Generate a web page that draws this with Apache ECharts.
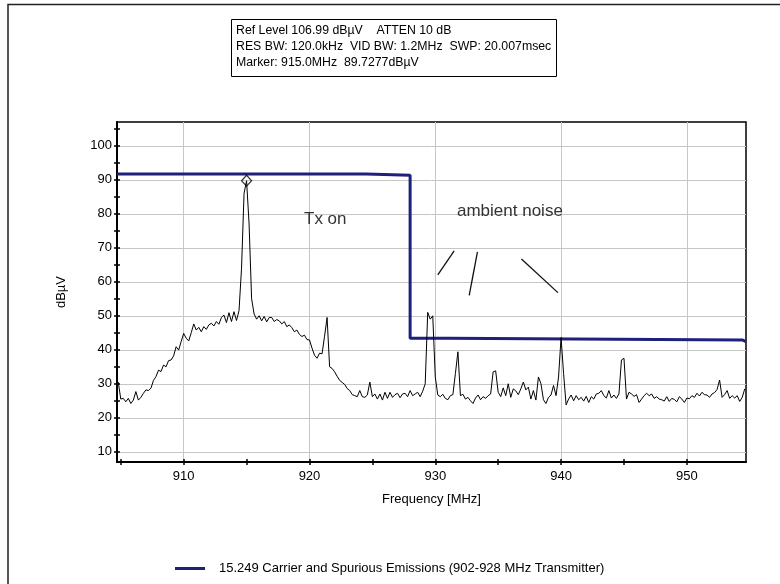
<!DOCTYPE html>
<html><head><meta charset="utf-8">
<script src="https://cdn.jsdelivr.net/npm/echarts@6/dist/echarts.min.js"></script>
<style>html,body{margin:0;padding:0;background:#fff}#c{width:780px;height:584px}</style>
</head><body><div id="c"></div>
<script>
const FONT = '"Liberation Sans", Arial, Helvetica, sans-serif';

// measured trace (frequency MHz, level dBµV)
const traceFreq = [
904.8,905.0,905.2,905.4,905.6,905.8,906.0,906.2,906.4,906.6,
906.8,907.0,907.2,907.4,907.6,907.8,908.0,908.2,908.4,908.6,
908.8,909.0,909.2,909.4,909.6,909.8,910.0,910.2,910.4,910.6,
910.8,911.0,911.2,911.4,911.6,911.8,912.0,912.2,912.4,912.6,
912.8,913.0,913.2,913.4,913.6,913.8,914.0,914.2,914.4,914.6,
914.8,915.0,915.2,915.4,915.6,915.8,916.0,916.2,916.4,916.6,
916.8,917.0,917.2,917.4,917.6,917.8,918.0,918.2,918.4,918.6,
918.8,919.0,919.2,919.4,919.6,919.8,920.0,920.2,920.4,920.6,
920.8,921.0,921.2,921.4,921.6,921.8,922.0,922.2,922.4,922.6,
922.8,923.0,923.2,923.4,923.6,923.8,924.0,924.2,924.4,924.6,
924.8,925.0,925.2,925.4,925.6,925.8,926.0,926.2,926.4,926.6,
926.8,927.0,927.2,927.4,927.6,927.8,928.0,928.2,928.4,928.6,
928.8,929.0,929.2,929.4,929.6,929.8,930.0,930.2,930.4,930.6,
930.8,931.0,931.2,931.4,931.6,931.8,932.0,932.2,932.4,932.6,
932.8,933.0,933.2,933.4,933.6,933.8,934.0,934.2,934.4,934.6,
934.8,935.0,935.2,935.4,935.6,935.8,936.0,936.2,936.4,936.6,
936.8,937.0,937.2,937.4,937.6,937.8,938.0,938.2,938.4,938.6,
938.8,939.0,939.2,939.4,939.6,939.8,940.0,940.2,940.4,940.6,
940.8,941.0,941.2,941.4,941.6,941.8,942.0,942.2,942.4,942.6,
942.8,943.0,943.2,943.4,943.6,943.8,944.0,944.2,944.4,944.6,
944.8,945.0,945.2,945.4,945.6,945.8,946.0,946.2,946.4,946.6,
946.8,947.0,947.2,947.4,947.6,947.8,948.0,948.2,948.4,948.6,
948.8,949.0,949.2,949.4,949.6,949.8,950.0,950.2,950.4,950.6,
950.8,951.0,951.2,951.4,951.6,951.8,952.0,952.2,952.4,952.6,
952.8,953.0,953.2,953.4,953.6,953.8,954.0,954.2,954.4,954.6
];
const traceLevel = [
30.5,25.5,25.7,24.7,25.7,24.2,25.2,27.7,25.2,26.0,
27.2,28.2,28.0,28.7,31.0,32.1,34.0,33.6,35.5,35.0,
36.8,37.0,38.2,40.9,39.9,42.4,44.8,43.4,42.6,45.0,
47.6,45.8,46.6,45.3,46.8,46.0,47.3,47.8,47.0,48.3,
47.5,49.5,50.2,48.0,50.9,48.3,51.2,48.6,51.5,64.0,
86.0,89.7277,77.0,55.0,50.5,49.0,50.0,48.5,49.8,48.2,
49.5,49.5,48.3,48.9,48.5,47.6,48.3,46.8,47.3,46.5,
45.3,45.8,44.5,43.9,44.3,43.0,42.9,40.5,38.4,37.5,
39.0,38.8,44.0,49.5,35.0,34.5,33.5,32.2,31.0,30.4,
29.8,28.6,28.0,26.8,26.5,26.2,28.0,26.2,26.0,26.7,
30.5,26.2,27.0,25.5,27.0,25.2,27.5,25.7,27.5,26.0,
26.8,27.2,25.9,27.0,27.2,26.2,28.0,26.5,27.0,27.5,
26.2,27.8,30.0,51.0,49.0,50.0,32.0,26.7,26.2,26.9,
25.7,25.3,26.5,26.8,33.0,39.4,26.5,26.9,25.5,26.0,
25.0,24.2,25.8,26.7,25.3,26.2,25.7,26.5,27.0,33.5,
33.8,27.5,26.2,28.8,26.5,30.0,26.0,28.5,27.9,26.8,
28.5,30.5,28.2,29.0,25.5,28.0,25.2,32.0,30.0,25.3,
24.2,26.0,26.7,29.5,26.5,32.0,43.6,33.0,23.8,25.5,
26.7,25.0,26.5,25.3,26.0,24.9,26.3,24.5,26.2,25.5,
27.0,27.2,28.0,26.5,25.8,28.0,25.8,26.7,25.7,27.0,
37.0,37.5,25.5,27.5,27.0,26.3,26.8,24.5,25.5,26.5,
27.2,26.5,27.0,25.7,26.2,25.5,25.3,24.9,26.2,24.8,
25.7,25.4,24.7,26.2,25.5,24.5,25.8,25.6,26.5,26.0,
27.2,26.4,27.5,26.8,26.7,26.0,27.0,27.4,28.3,31.1,
26.0,26.8,28.0,25.7,26.5,25.8,26.5,24.8,26.0,28.5
];

// limit line (15.249)
const limitFreq  = [904.7, 924.5, 924.5, 928.0, 928.0, 931.0, 931.0, 954.4, 954.4, 954.7];
const limitLevel = [91.7,  91.7,  91.3,  91.3,  43.4,  43.4,  42.9,  42.9,  42.4,  42.4];

// marker
const markerFreq = [915.0];
const markerLevel = [89.7277];

// hand-drawn annotation strokes (start, end) in MHz / dBµV
const noteStrokes = [
  [[931.50, 69.1], [930.20, 62.0]],
  [[933.35, 68.8], [932.70, 56.0]],
  [[936.85, 66.7], [939.75, 56.8]]
];

// axes
const xRange = [904.7, 954.7];
const yRange = [6.99, 106.99];
const xTicks = [905, 910, 915, 920, 925, 930, 935, 940, 945, 950];
const xLabels = [910, 920, 930, 940, 950];
const yTicks = [10, 15, 20, 25, 30, 35, 40, 45, 50, 55, 60, 65, 70, 75, 80, 85, 90, 95, 100, 105];
const yLabels = [10, 20, 30, 40, 50, 60, 70, 80, 90, 100];

const infoLines = [
  'Ref Level 106.99 dBµV    ATTEN 10 dB',
  'RES BW: 120.0kHz  VID BW: 1.2MHz  SWP: 20.007msec',
  'Marker: 915.0MHz  89.7277dBµV'
];
const limitName = '15.249 Carrier and Spurious Emissions (902-928 MHz Transmitter)';
const xName = 'Frequency [MHz]';
const yName = 'dBµV';

const zip = (a, b) => a.map((v, i) => [v, b[i]]);

function xAxisBase(extra) {
  return Object.assign({
    type: 'value', min: xRange[0], max: xRange[1], position: 'bottom',
    axisLine: { show: false, onZero: false },
    axisTick: { show: false }, axisLabel: { show: false }, splitLine: { show: false }
  }, extra);
}
function yAxisBase(extra) {
  return Object.assign({
    type: 'value', min: yRange[0], max: yRange[1], position: 'left',
    axisLine: { show: false, onZero: false },
    axisTick: { show: false }, axisLabel: { show: false }, splitLine: { show: false }
  }, extra);
}

const chart = echarts.init(document.getElementById('c'), null, { renderer: 'canvas' });
chart.setOption({
  animation: false,
  backgroundColor: '#fff',
  textStyle: { fontFamily: FONT },
  grid: { left: 117, top: 122, right: 34, bottom: 122, show: true, borderColor: '#000', borderWidth: 1.5, containLabel: false },
  legend: {
    data: [limitName], left: 170, top: 557, icon: 'rect', itemWidth: 30, itemHeight: 3,
    textStyle: { fontFamily: FONT, fontSize: 13, color: '#000', padding: [0, 0, 0, 9] },
    selectedMode: false
  },
  xAxis: [
    xAxisBase({
      name: xName, nameLocation: 'middle', nameGap: 31,
      nameTextStyle: { fontFamily: FONT, fontSize: 13, color: '#000' },
      axisLine: { show: true, onZero: false, lineStyle: { color: '#000', width: 2 } },
      axisTick: { show: true, inside: false, length: 3, customValues: xTicks, lineStyle: { color: '#000', width: 1.5 } },
      axisLabel: { show: true, customValues: xLabels, margin: 8, fontSize: 13, color: '#000', fontFamily: FONT }
    }),
    xAxisBase({
      axisTick: { show: true, inside: true, length: 3, customValues: xTicks, lineStyle: { color: '#000', width: 1.5 } }
    }),
    xAxisBase({
      axisTick: { show: false, customValues: xLabels },
      splitLine: { show: true, lineStyle: { color: '#c6c6c6', width: 1 } }
    })
  ],
  yAxis: [
    yAxisBase({
      name: yName, nameLocation: 'middle', nameGap: 49,
      nameTextStyle: { fontFamily: FONT, fontSize: 13, color: '#000' },
      axisLine: { show: true, onZero: false, lineStyle: { color: '#000', width: 2 } },
      axisTick: { show: true, inside: false, length: 3, customValues: yTicks, lineStyle: { color: '#000', width: 1.5 } },
      axisLabel: { show: true, customValues: yLabels, margin: 5, fontSize: 13, color: '#000', fontFamily: FONT }
    }),
    yAxisBase({
      axisTick: { show: true, inside: true, length: 3, customValues: yTicks, lineStyle: { color: '#000', width: 1.5 } }
    }),
    yAxisBase({
      axisTick: { show: false, customValues: yLabels },
      splitLine: { show: true, lineStyle: { color: '#c6c6c6', width: 1 } }
    })
  ],
  series: [
    {
      name: limitName, type: 'line', xAxisIndex: 0, yAxisIndex: 0,
      data: zip(limitFreq, limitLevel), symbol: 'none', z: 2,
      color: '#1f1f7d', lineStyle: { color: '#1f1f7d', width: 3 }
    },
    {
      name: 'trace', type: 'line', xAxisIndex: 0, yAxisIndex: 0,
      data: zip(traceFreq, traceLevel), symbol: 'none', z: 3,
      color: '#000', lineStyle: { color: '#000', width: 1 }
    },
    {
      name: 'marker', type: 'scatter', xAxisIndex: 0, yAxisIndex: 0,
      data: zip(markerFreq, markerLevel), symbol: 'diamond', symbolSize: [10, 11], z: 4,
      itemStyle: { color: 'rgba(255,255,255,0)', borderColor: '#000', borderWidth: 1.2 }
    },
    {
      name: 'notes', type: 'lines', coordinateSystem: 'cartesian2d', xAxisIndex: 0, yAxisIndex: 0,
      data: noteStrokes.map(c => ({ coords: c })), z: 4, silent: true,
      lineStyle: { color: '#111', width: 1.3, opacity: 1 }
    }
  ],
  graphic: [
    { type: 'polyline', z: 100, shape: { points: [[8, 584], [8, 4.5], [780, 4.5]] }, style: { stroke: '#222', lineWidth: 1.5, fill: null } },
    { type: 'rect', z: 100, shape: { x: 231.5, y: 19.5, width: 325, height: 57 }, style: { fill: '#fff', stroke: '#000', lineWidth: 1 } },
    { type: 'text', z: 101, left: 236, top: 25, style: { text: infoLines[0], font: '12.3px ' + FONT, fill: '#000' } },
    { type: 'text', z: 101, left: 236, top: 41, style: { text: infoLines[1], font: '12.3px ' + FONT, fill: '#000' } },
    { type: 'text', z: 101, left: 236, top: 57, style: { text: infoLines[2], font: '12.3px ' + FONT, fill: '#000' } },
    { type: 'text', z: 101, left: 304, top: 211, style: { text: 'Tx on', font: '17px ' + FONT, fill: '#333' } },
    { type: 'text', z: 101, left: 457, top: 203, style: { text: 'ambient noise', font: '17px ' + FONT, fill: '#333' } }
  ]
});
</script>
</body></html>
